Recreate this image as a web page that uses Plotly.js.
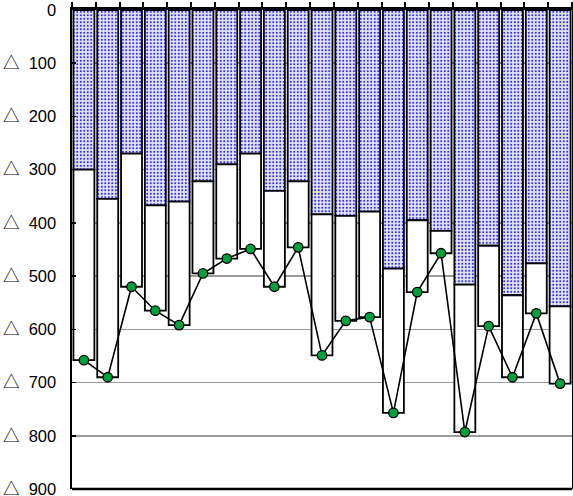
<!DOCTYPE html>
<html>
<head>
<meta charset="utf-8">
<script src="https://cdn.plot.ly/plotly-3.0.1.min.js"></script>
<style>html,body{margin:0;padding:0;background:#fff;}#chart{width:573px;height:496px;}</style>
</head>
<body>
<div id="chart"></div>
<script>
// Categories (21 periods, unlabeled in the reference)
var categories = ["1","2","3","4","5","6","7","8","9","10","11","12","13","14","15","16","17","18","19","20","21"];
// Upper (dotted blue) segment depth (negative = △)
var upperDepth = [300, 355, 270, 367, 360, 322, 290, 270, 340, 322, 384, 387, 379, 486, 395, 415, 516, 443, 536, 476, 557];
// Total depth (bottom of white bar, line markers)
var totalDepth = [658, 690, 520, 565, 592, 495, 467, 449, 520, 446, 649, 584, 577, 757, 530, 457, 793, 594, 690, 570, 702];
// Y tick values and labels
var tickValues = [0, -100, -200, -300, -400, -500, -600, -700, -800, -900];
var tickNumbers = ["0", "100", "200", "300", "400", "500", "600", "700", "800", "900"];

var tri = '<span style="font-family:\'Noto Sans CJK JP\'">△</span>\u00a0\u00a0';
var tickLabels = tickNumbers.map(function(t, i){ return i === 0 ? t : tri + t; });

var upperY = upperDepth.map(function(v){ return -v; });
var lowerY = totalDepth.map(function(v, i){ return -(v - upperDepth[i]); });
var totalY = totalDepth.map(function(v){ return -v; });

var traces = [
  {
    type: "bar", x: categories, y: upperY, name: "upper",
    marker: {
      color: "#ffffff",
      pattern: {shape: ".", fgcolor: "#2a2aff", bgcolor: "#e8e8ff", size: 3.5, solidity: 0.28},
      line: {color: "#000", width: 1.8}
    },
    hoverinfo: "skip"
  },
  {
    type: "bar", x: categories, y: lowerY, name: "lower",
    marker: {color: "#ffffff", line: {color: "#000", width: 1.8}},
    hoverinfo: "skip"
  },
  {
    type: "scatter", mode: "lines+markers", x: categories, y: totalY, name: "total",
    line: {color: "#000", width: 1.6},
    marker: {color: "#00a040", size: 9.5, line: {color: "#000", width: 1.3}}
  }
];

var layout = {
  width: 573, height: 496,
  margin: {l: 72, r: 1, t: 10, b: 7},
  paper_bgcolor: "#fff", plot_bgcolor: "#fff",
  barmode: "relative", bargap: 0.12,
  showlegend: false,
  font: {family: "Liberation Sans, Arial, sans-serif", size: 16, color: "#000"},
  xaxis: {
    type: "category", side: "top", range: [-0.5, 20.5], autorange: false,
    showline: true, linecolor: "#000", linewidth: 3,
    ticks: "outside", tickson: "boundaries", ticklen: 5, tickwidth: 2, tickcolor: "#000",
    showticklabels: false, showgrid: false, zeroline: false, fixedrange: true
  },
  yaxis: {
    range: [-900, 0], autorange: false, tickvals: tickValues, ticktext: tickLabels,
    showline: true, linecolor: "#000", linewidth: 2.5, mirror: true,
    ticks: "inside", ticklen: 4, tickwidth: 1.5, tickcolor: "#000",
    showgrid: true, gridcolor: "#9a9a9a", gridwidth: 1.5,
    zeroline: false, ticklabelstandoff: 10, ticklabeloverflow: "allow", fixedrange: true,
    tickfont: {size: 16.5}
  },
  shapes: [
    {type: "line", xref: "paper", yref: "paper", x0: 0, x1: 1, y0: 0, y1: 0, line: {color: "#000", width: 2.5}}
  ]
};

Plotly.newPlot("chart", traces, layout, {displayModeBar: false, staticPlot: true});
</script>
</body>
</html>
